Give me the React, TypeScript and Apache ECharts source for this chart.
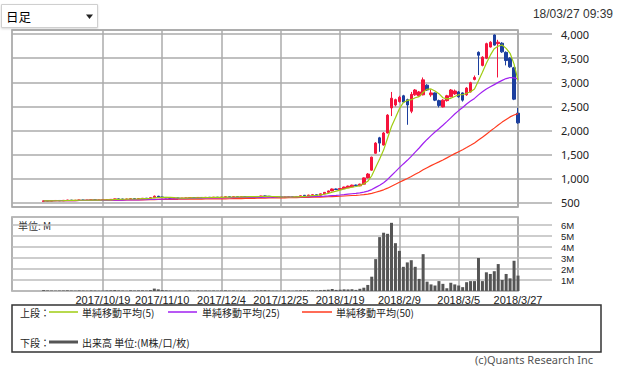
import React, { useEffect, useRef } from "react";
import * as echarts from "echarts";

// Trading-day categories (x axis)
const categories = [
  "2017/9/14","2017/9/15","2017/9/19","2017/9/20","2017/9/21","2017/9/22","2017/9/25","2017/9/26","2017/9/27","2017/9/28","2017/9/29",
  "2017/10/2","2017/10/3","2017/10/4","2017/10/5","2017/10/6","2017/10/10","2017/10/11","2017/10/12","2017/10/13","2017/10/16","2017/10/17","2017/10/18","2017/10/19",
  "2017/10/20","2017/10/23","2017/10/24","2017/10/25","2017/10/26","2017/10/27","2017/10/30","2017/10/31",
  "2017/11/1","2017/11/2","2017/11/6","2017/11/7","2017/11/8","2017/11/9","2017/11/10",
  "2017/11/13","2017/11/14","2017/11/15","2017/11/16","2017/11/17","2017/11/20","2017/11/21","2017/11/22","2017/11/24","2017/11/27","2017/11/28","2017/11/29","2017/11/30",
  "2017/12/1","2017/12/4",
  "2017/12/5","2017/12/6","2017/12/7","2017/12/8","2017/12/11","2017/12/12","2017/12/13","2017/12/14","2017/12/15","2017/12/18","2017/12/19","2017/12/20","2017/12/21","2017/12/22","2017/12/25",
  "2017/12/26","2017/12/27","2017/12/28","2017/12/29",
  "2018/1/4","2018/1/5","2018/1/9","2018/1/10","2018/1/11","2018/1/12","2018/1/15","2018/1/16","2018/1/17","2018/1/18","2018/1/19",
  "2018/1/22","2018/1/23","2018/1/24","2018/1/25","2018/1/26","2018/1/29","2018/1/30","2018/1/31",
  "2018/2/1","2018/2/2","2018/2/5","2018/2/6","2018/2/7","2018/2/8","2018/2/9",
  "2018/2/13","2018/2/14","2018/2/15","2018/2/16","2018/2/19","2018/2/20","2018/2/21","2018/2/22","2018/2/23","2018/2/26","2018/2/27","2018/2/28",
  "2018/3/1","2018/3/2","2018/3/5",
  "2018/3/6","2018/3/7","2018/3/8","2018/3/9","2018/3/12","2018/3/13","2018/3/14","2018/3/15","2018/3/16","2018/3/19","2018/3/20","2018/3/22","2018/3/23","2018/3/26","2018/3/27"
];

// Dates that carry an x-axis label and a vertical grid line
const labelDates = ["2017/10/19","2017/11/10","2017/12/4","2017/12/25","2018/1/19","2018/2/9","2018/3/5","2018/3/27"];

// First date with data
const firstDate = "2017/9/27";

const opens = [
  530,545,540,548,552,546,555,560,552,558,
  562,555,560,565,558,562,566,570,575,585,
  580,578,582,590,585,592,598,595,610,640,
  625,615,605,600,603,598,600,605,612,608,
  615,612,618,615,620,616,622,628,624,630,
  626,632,628,634,630,635,645,640,628,622,
  625,620,624,628,626,635,660,650,665,670,
  660,690,720,750,790,780,795,815,835,872,
  855,890,1020,1180,1530,1850,1700,1950,2470,2530,
  2600,2720,2640,2400,2740,2720,2740,2940,2740,2780,
  2620,2490,2620,2700,2760,2800,2780,2740,2800,3060,
  3620,3350,3500,3730,3980,3800,3810,3620,3500,3300,2360
];
const closes = [
  545,540,548,552,546,555,560,552,558,562,
  555,560,565,558,562,566,570,575,585,580,
  578,582,590,585,592,598,595,610,640,625,
  615,605,600,603,598,600,605,612,608,615,
  612,618,615,620,616,622,628,624,630,626,
  632,628,634,630,635,645,640,628,622,625,
  620,624,628,626,635,650,650,665,670,660,
  690,720,750,790,780,800,830,850,870,860,
  890,1020,1100,1450,1740,1740,1950,2320,2670,2640,
  2690,2590,2530,2750,2840,2800,3050,2840,2780,2630,
  2520,2630,2720,2840,2820,2700,2630,2880,2990,3100,
  3560,3520,3800,3830,3770,3830,3630,3450,3320,2650,2160
];
const lows = [
  525,535,536,544,542,543,550,548,550,554,
  552,552,556,555,555,558,562,566,572,576,
  574,574,578,580,582,588,590,592,605,618,
  610,600,596,596,594,594,596,602,604,605,
  608,608,610,612,612,612,618,620,620,622,
  622,624,624,626,626,632,635,625,618,618,
  616,616,620,622,622,632,645,648,660,655,
  658,685,715,745,770,775,790,810,830,850,
  850,885,1010,1170,1520,1560,1690,1940,2300,2500,
  2580,2570,2120,2360,2720,2700,2730,2820,2700,2610,
  2480,2480,2600,2690,2740,2680,2600,2720,2790,3040,
  3150,3330,3480,3720,3760,3100,3610,3350,3300,2630,2140
];
const highs = [
  550,550,552,556,556,558,565,562,562,566,
  565,563,568,567,566,570,574,580,590,590,
  585,586,596,594,596,602,602,615,655,648,
  630,620,610,608,606,604,610,616,616,620,
  618,622,622,624,624,626,632,632,634,634,
  636,636,638,638,640,650,652,644,632,630,
  628,628,632,632,640,655,665,670,676,674,
  695,728,758,800,798,808,838,860,880,880,
  900,1030,1120,1460,1760,1870,1970,2340,2800,2660,
  2720,2740,2660,2800,2860,2820,3100,2960,2850,2790,
  2640,2650,2740,2860,2850,2820,2790,2900,3010,3140,
  3640,3540,3820,3850,3990,3880,3830,3640,3520,3320,2470
];

const ma5 = [
  545,543,544,546,546,548,552,553,554,557,
  557,557,560,560,560,562,564,566,572,575,
  578,580,583,583,585,589,592,596,607,614,
  617,619,617,610,604,601,601,604,605,608,
  610,613,614,616,616,618,620,622,624,626,
  628,628,630,630,632,634,637,636,634,632,
  627,624,624,625,627,633,638,645,654,659,
  667,681,698,722,746,768,790,810,826,842,
  860,898,948,1064,1240,1410,1596,1840,2084,2264,
  2454,2582,2624,2640,2680,2702,2794,2856,2862,2820,
  2764,2680,2656,2668,2706,2742,2742,2774,2804,2860,
  3032,3210,3394,3562,3696,3750,3772,3702,3600,3376,3042
];
const ma25 = [
  545,543,544,546,546,548,549,550,551,552,
  552,553,554,554,555,555,556,557,559,560,
  561,562,563,564,565,567,569,572,575,578,
  581,583,584,586,588,589,591,593,595,597,
  599,601,603,604,605,607,609,610,612,614,
  615,616,617,617,617,618,620,621,622,623,
  624,624,625,626,627,628,629,631,633,635,
  638,642,647,653,659,666,674,683,692,701,
  711,726,745,778,823,868,921,988,1070,1150,
  1232,1309,1384,1467,1554,1639,1732,1816,1895,1969,
  2038,2110,2185,2264,2342,2414,2479,2550,2612,2666,
  2739,2802,2861,2907,2952,2998,3040,3077,3099,3092,3066
];
const ma50 = [
  545,543,544,546,546,548,549,550,551,552,
  552,553,554,554,555,555,556,557,559,560,
  561,562,563,564,565,566,567,569,571,573,
  574,575,576,577,577,578,579,580,580,581,
  582,583,584,584,585,586,587,588,589,589,
  591,593,594,596,598,600,601,603,604,605,
  607,608,609,610,612,614,615,617,619,620,
  623,625,629,633,636,640,645,650,655,659,
  665,673,683,700,723,746,773,807,848,888,
  930,969,1008,1050,1095,1138,1187,1231,1274,1314,
  1352,1392,1434,1478,1522,1563,1603,1648,1695,1744,
  1803,1861,1925,1989,2051,2115,2175,2230,2283,2323,2352
];

// Volume in millions
const volumes = [
  0.08,0.05,0.04,0.03,0.04,0.05,0.06,0.04,0.03,0.05,
  0.04,0.03,0.05,0.04,0.03,0.04,0.05,0.06,0.08,0.05,
  0.04,0.03,0.06,0.04,0.05,0.06,0.04,0.08,0.22,0.15,
  0.08,0.06,0.04,0.03,0.03,0.02,0.03,0.05,0.03,0.05,
  0.03,0.04,0.03,0.04,0.03,0.04,0.05,0.03,0.04,0.03,
  0.04,0.03,0.04,0.03,0.04,0.06,0.07,0.05,0.03,0.03,
  0.02,0.03,0.03,0.02,0.04,0.06,0.05,0.07,0.06,0.05,
  0.08,0.1,0.12,0.18,0.1,0.12,0.15,0.14,0.16,0.1,
  0.2,0.3,0.55,1.3,2.9,4.9,5.3,5.2,6.2,4.35,
  3.65,2.2,2.6,2.8,2.2,1.1,3.35,0.85,0.6,0.5,
  0.9,0.65,0.25,0.75,0.6,0.5,0.35,0.8,0.9,0.9,
  3.0,0.9,1.7,1.55,1.8,2.45,1.0,1.55,1.15,2.75,1.4
];

const RED = "#f5143c";
const BLUE = "#1c3f9e";
const C_MA5 = "#9fcc12";
const C_MA25 = "#a020f0";
const C_MA50 = "#ff3b1f";
const GRIDC = "#ababab";
const CJK = "'Noto Sans CJK JP', 'Noto Sans', sans-serif";
const LAT = "'Noto Sans', 'DejaVu Sans', sans-serif";
const LIB = "'Liberation Sans', Arial, sans-serif";

export default function App() {
  const ref = useRef<HTMLDivElement>(null);
  useEffect(() => {
    if (!ref.current) return;
    const chart = echarts.init(ref.current, null, { renderer: "svg" });
    const start = categories.indexOf(firstDate);
    const candleRows = opens.map((o, i) => [start + i, o, closes[i], lows[i], highs[i]]);
    const pair = (arr: number[]) => arr.map((v, i) => [start + i, v]);
    const isLabelDay = (_i: number, v: string) => labelDates.indexOf(v) >= 0;
    const tickStyle = { color: GRIDC, width: 1.5 };

    const legendY1 = 312;
    const legendY2 = 342;
    const txt = (x: number, y: number, s: string, size = 10, fill = "#222", align = "left", family = CJK) => ({
      type: "text", x, y, silent: true,
      style: { text: s, fill, fontSize: size, fontFamily: family, align, verticalAlign: "middle" },
    });
    const seg = (x1: number, x2: number, y: number, color: string, w: number) => ({
      type: "line", silent: true,
      shape: { x1, y1: y, x2, y2: y },
      style: { stroke: color, lineWidth: w },
    });

    const option: any = {
      animation: false,
      backgroundColor: "#ffffff",
      grid: [
        { left: 12, top: 30, width: 506, height: 177, show: true, borderColor: "#9a9a9a", borderWidth: 1.5, containLabel: false, outerBoundsMode: "none" },
        { left: 12, top: 217, width: 506, height: 74, show: true, borderColor: "#9a9a9a", borderWidth: 1.5, containLabel: false, outerBoundsMode: "none" },
      ],
      xAxis: [
        {
          type: "category", gridIndex: 0, data: categories, boundaryGap: false,
          axisLine: { show: false }, axisTick: { show: false }, axisLabel: { show: false },
          splitLine: { show: true, interval: isLabelDay, lineStyle: tickStyle },
        },
        {
          type: "category", gridIndex: 1, data: categories, boundaryGap: false,
          axisLine: { show: false }, axisTick: { show: false },
          axisLabel: { show: true, interval: isLabelDay, margin: 3, fontSize: 11, color: "#222", fontFamily: LIB },
          splitLine: { show: true, interval: isLabelDay, lineStyle: tickStyle },
        },
      ],
      yAxis: [
        {
          type: "value", gridIndex: 0, position: "right", min: 417, max: 4083,
          splitNumber: 7, minInterval: 500, maxInterval: 500,
          axisLine: { show: false },
          axisTick: { show: true, length: 34, lineStyle: tickStyle },
          axisLabel: {
            margin: 43, fontSize: 11, color: "#222", fontFamily: LAT,
            showMinLabel: false, showMaxLabel: false,
            formatter: (v: number) => (v % 500 === 0 ? v.toLocaleString("en-US") : ""),
          },
          splitLine: { show: true, lineStyle: tickStyle },
        },
        {
          type: "value", gridIndex: 1, position: "right", min: 0, max: 6.73,
          splitNumber: 6, minInterval: 1, maxInterval: 1,
          axisLine: { show: false },
          axisTick: { show: true, length: 34, lineStyle: { color: "#bdbdbd", width: 1.5 } },
          axisLabel: {
            margin: 43, fontSize: 9.5, lineHeight: 10, color: "#222", fontFamily: LIB,
            showMinLabel: false, showMaxLabel: false,
            formatter: (v: number) => (v > 0 && Math.abs(v - Math.round(v)) < 1e-6 && v <= 6 ? Math.round(v) + "M" : ""),
          },
          splitLine: { show: true, lineStyle: { color: "#bdbdbd", width: 1.5 } },
        },
      ],
      series: [
        {
          type: "candlestick", xAxisIndex: 0, yAxisIndex: 0,
          data: candleRows, encode: { x: 0, y: [1, 2, 3, 4] },
          barWidth: 3, clip: false,
          itemStyle: { color: RED, color0: BLUE, borderColor: RED, borderColor0: BLUE, borderWidth: 1 },
        },
        { type: "line", xAxisIndex: 0, yAxisIndex: 0, data: pair(ma50), symbol: "none", showSymbol: false, lineStyle: { color: C_MA50, width: 1.2 } },
        { type: "line", xAxisIndex: 0, yAxisIndex: 0, data: pair(ma25), symbol: "none", showSymbol: false, lineStyle: { color: C_MA25, width: 1.2 } },
        { type: "line", xAxisIndex: 0, yAxisIndex: 0, data: pair(ma5), symbol: "none", showSymbol: false, lineStyle: { color: C_MA5, width: 1.2 } },
        {
          type: "bar", xAxisIndex: 1, yAxisIndex: 1, data: pair(volumes),
          barWidth: 3, itemStyle: { color: "#555555" },
        },
      ],
      graphic: [
        // period selector
        { type: "rect", silent: true, shape: { x: 1.5, y: 4.5, width: 96, height: 23 }, style: { fill: "#ffffff", stroke: "#cfcfcf", lineWidth: 1, shadowBlur: 2, shadowColor: "rgba(0,0,0,0.15)", shadowOffsetY: 1 } },
        txt(6, 16.5, "日足", 12.5, "#000"),
        { type: "polygon", silent: true, shape: { points: [[86, 14.5], [93, 14.5], [89.5, 19]] }, style: { fill: "#222" } },
        txt(613, 14, "18/03/27 09:39", 12, "#333", "right", LIB),
        // volume unit
        txt(18, 225, "単位: M", 10, "#333"),
        // legend box
        { type: "rect", silent: true, shape: { x: 12, y: 305, width: 589, height: 47 }, style: { fill: "none", stroke: "#333", lineWidth: 1.5 } },
        txt(20, legendY1, "上段：", 10),
        seg(49, 78, legendY1, C_MA5, 1.5),
        txt(82, legendY1, "単純移動平均(5)", 10),
        seg(168, 197, legendY1, C_MA25, 1.5),
        txt(202, legendY1, "単純移動平均(25)", 10),
        seg(302, 332, legendY1, C_MA50, 1.5),
        txt(336, legendY1, "単純移動平均(50)", 10),
        txt(20, legendY2, "下段：", 10),
        seg(49, 78, legendY2, "#555555", 3),
        txt(82, legendY2, "出来高 単位:(M株/口/枚)", 10),
        txt(475, 359, "(c)Quants Research Inc", 11, "#555", "left", LAT),
      ],
    };
    chart.setOption(option);
    return () => chart.dispose();
  }, []);
  return <div ref={ref} style={{ position: "absolute", left: 0, top: 0, width: 620, height: 366 }} />;
}
